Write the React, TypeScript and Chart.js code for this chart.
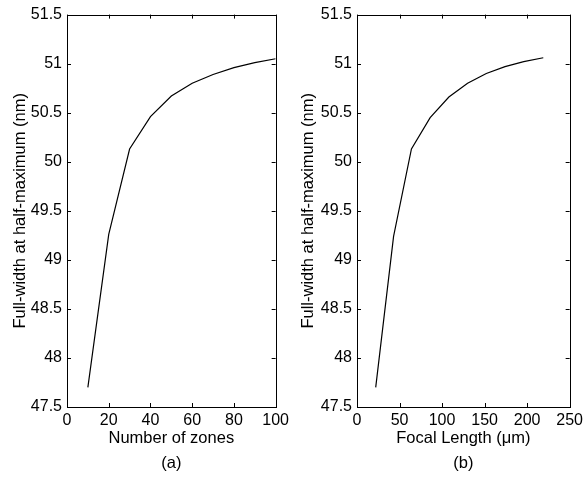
import React, { useEffect, useRef } from "react";
import { Chart, registerables } from "chart.js";

Chart.register(...registerables);

const zones = [10, 20, 30, 40, 50, 60, 70, 80, 90, 100];
const fwhmZones = [47.7, 49.26, 50.13, 50.46, 50.67, 50.8, 50.89, 50.96, 51.01, 51.05];
const focalLengths = [22, 43, 64, 86, 108, 130, 152, 174, 196, 219];
const fwhmFocal = [47.7, 49.24, 50.13, 50.45, 50.66, 50.8, 50.9, 50.97, 51.02, 51.06];

const yTitle = "Full-width at half-maximum (nm)";
const yMin = 47.5;
const yMax = 51.5;
const yStep = 0.5;

const FONT = "'Liberation Sans', Arial, Helvetica, sans-serif";

const framePlugin = {
  id: "frame",
  afterDraw(chart: any) {
    const { ctx, chartArea: a, scales } = chart;
    ctx.save();
    ctx.strokeStyle = "#000";
    ctx.lineWidth = 1;
    ctx.strokeRect(Math.round(a.left) + 0.5, Math.round(a.top) + 0.5, Math.round(a.right - a.left), Math.round(a.bottom - a.top));
    const L = 4;
    ctx.beginPath();
    scales.x.ticks.forEach((t: any) => {
      const px = Math.round(scales.x.getPixelForValue(t.value)) + 0.5;
      ctx.moveTo(px, a.bottom);
      ctx.lineTo(px, a.bottom - L);
      ctx.moveTo(px, a.top);
      ctx.lineTo(px, a.top + L);
    });
    scales.y.ticks.forEach((t: any) => {
      const py = Math.round(scales.y.getPixelForValue(t.value)) + 0.5;
      ctx.moveTo(a.left, py);
      ctx.lineTo(a.left + L, py);
      ctx.moveTo(a.right, py);
      ctx.lineTo(a.right - L, py);
    });
    ctx.stroke();
    ctx.restore();
  },
};

type PanelProps = {
  xs: number[];
  ys: number[];
  xMax: number;
  xStep: number;
  xTitle: string;
  label: string;
  width: number;
  yAxisWidth: number;
  rightPad: number;
  yTitlePad: number;
};

function Panel(p: PanelProps) {
  const ref = useRef<HTMLCanvasElement | null>(null);
  useEffect(() => {
    if (!ref.current) return;
    const chart = new Chart(ref.current, {
      type: "line",
      data: {
        datasets: [
          {
            data: p.xs.map((x, i) => ({ x, y: p.ys[i] })),
            borderColor: "#000",
            borderWidth: 1.2,
            pointRadius: 0,
            tension: 0,
            fill: false,
          },
        ],
      },
      options: {
        responsive: false,
        animation: false,
        layout: { padding: { left: 0, right: p.rightPad, top: 12, bottom: 0 } },
        plugins: { legend: { display: false }, tooltip: { enabled: false }, title: { display: false } },
        scales: {
          x: {
            type: "linear",
            min: 0,
            max: p.xMax,
            grid: { display: false, drawTicks: false },
            border: { display: false },
            ticks: {
              stepSize: p.xStep,
              color: "#000",
              padding: 4,
              maxRotation: 0,
              font: { family: FONT, size: 16 },
              callback: (v: any) => String(v),
            },
            title: {
              display: true,
              text: [p.xTitle, p.label],
              color: "#000",
              font: { family: FONT, size: 16.5, lineHeight: 25 / 16.5 },
              padding: { top: 0, bottom: 1.5 },
            },
            afterFit: (s: any) => {
              s.height = 70;
            },
          },
          y: {
            type: "linear",
            min: yMin,
            max: yMax,
            grid: { display: false, drawTicks: false },
            border: { display: false },
            ticks: {
              stepSize: yStep,
              color: "#000",
              padding: 5,
              font: { family: FONT, size: 16 },
              callback: (v: any) => String(v),
            },
            title: {
              display: true,
              text: yTitle,
              color: "#000",
              font: { family: FONT, size: 16.5, lineHeight: 1.2 },
              padding: { top: p.yTitlePad, bottom: 0 },
            },
            afterFit: (s: any) => {
              s.width = p.yAxisWidth;
            },
          },
        },
      },
      plugins: [framePlugin],
    });
    return () => chart.destroy();
  }, []);
  return <canvas ref={ref} width={p.width} height={477} style={{ display: "block" }} />;
}

export default function App() {
  return (
    <div style={{ position: "absolute", left: 0, top: 0, width: 587, height: 477, background: "#fff", display: "flex" }}>
      <Panel xs={zones} ys={fwhmZones} xMax={100} xStep={20} xTitle="Number of zones" label="(a)" width={293} yAxisWidth={67} rightPad={15} yTitlePad={11} />
      <Panel xs={focalLengths} ys={fwhmFocal} xMax={250} xStep={50} xTitle="Focal Length (μm)" label="(b)" width={294} yAxisWidth={64} rightPad={17} yTitlePad={6} />
    </div>
  );
}
